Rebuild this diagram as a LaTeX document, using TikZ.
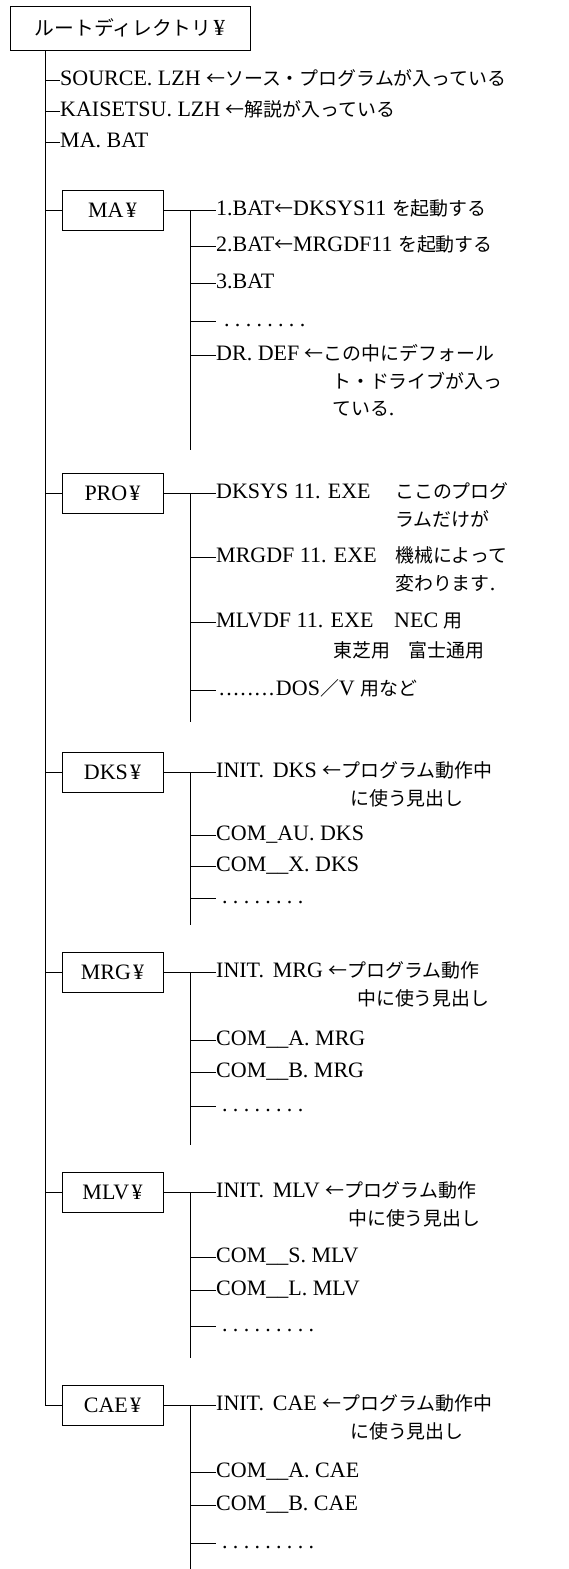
\documentclass[tikz,border=0pt]{standalone}
\usepackage{fontspec}
\setmainfont{Liberation Serif}
\newfontfamily\jpfont[Scale=0.86]{Noto Sans CJK JP}
\newcommand\ja[1]{{\jpfont #1}}
\newcommand\yen{\hspace{0.1em}¥}
\newcommand\leaderdots[2][5.3pt]{\foreach \k in {1,...,#2}{.\hspace{#1}}}
\tikzset{
  dirbox/.style={draw, line width=0.9pt, minimum width=101pt, minimum height=40pt, inner sep=0pt},
  entry/.style={anchor=west, inner sep=0pt, text height=15pt, text depth=5pt},
  branch/.style={line width=0.9pt}
}
\begin{document}
\begin{tikzpicture}[x=1pt, y=-1pt, font=\fontsize{22}{26}\selectfont]
  \useasboundingbox (0,0) rectangle (569,1569);

  % root directory
  \node[dirbox, minimum width=240pt, minimum height=44pt] (root) at (130,28)
    {\fontsize{23}{27}\selectfont\ja{ルートディレクトリ}\yen};
  \coordinate (trunk) at (45,1405);
  \coordinate (sub) at (190,0);

  % files in the root
  \node[entry] (source) at (60,80) {SOURCE. LZH \ja{←ソース・プログラムが入っている}};
  \node[entry] (kaisetsu) at (60,111) {KAISETSU. LZH \ja{←解説が入っている}};
  \node[entry] (mabat) at (60,142) {MA. BAT};
  \foreach \f in {source,kaisetsu,mabat}
    \draw[branch] (\f.west -| trunk) -- (\f.west);

  % sub directories
  \foreach \d/\lbl/\y/\e in {ma/MA/210/450, pro/PRO/493/722, dks/DKS/772/925,
                             mrg/MRG/972/1145, mlv/MLV/1192/1358, cae/CAE/1405/1569}{
    \node[dirbox] (\d) at (112.5,\y) {\lbl\yen};
    \coordinate (\d-end) at (190,\e);
    \draw[branch] (\d -| sub) -- (\d-end);
  }
  \draw[branch] (root.south -| trunk) -- (trunk) -- (cae.west);
  \foreach \d in {ma,pro,dks,mrg,mlv}
    \draw[branch] (\d.west -| trunk) -- (\d.west);

  % MA
  \node[entry] (ma1) at (216,210) {1.BAT\ja{←}DKSYS11 \ja{を起動する}};
  \node[entry] (ma2) at (216,246) {2.BAT\ja{←}MRGDF11 \ja{を起動する}};
  \node[entry] (ma3) at (216,283) {3.BAT};
  \node[entry] (ma4) at (216,321) {\hspace{8pt}\leaderdots{8}};
  \node[entry] (ma5) at (216,355) {DR. DEF \ja{←この中にデフォール}};
  \node[entry] (ma5b) at (332,383) {\ja{ト・ドライブが入っ}};
  \node[entry] (ma5c) at (332,410) {\ja{ている}.};

  % PRO
  \node[entry] (pro1) at (216,493) {DKSYS 11. EXE};
  \node[entry] (pro1n) at (395,493) {\ja{ここのプログ}};
  \node[entry] (pro1b) at (395,521) {\ja{ラムだけが}};
  \node[entry] (pro2) at (216,557) {MRGDF 11. EXE};
  \node[entry] (pro2n) at (395,557) {\ja{機械によって}};
  \node[entry] (pro2b) at (395,585) {\ja{変わります}.};
  \node[entry] (pro3) at (216,622) {MLVDF 11. EXE};
  \node[entry] (pro3n) at (394,622) {NEC \ja{用}};
  \node[entry] (pro3b) at (333,652) {\ja{東芝用\hspace{1em}富士通用}};
  \node[entry] (pro4) at (216,690) {\hspace{3pt}\leaderdots[1.6pt]{8}DOS\ja{／}V \ja{用など}};

  % DKS
  \node[entry] (dks1) at (216,772) {INIT.\hspace{0.4em}DKS \ja{←プログラム動作中}};
  \node[entry] (dks1b) at (350,800) {\ja{に使う見出し}};
  \node[entry] (dks2) at (216,835) {COM\_AU. DKS};
  \node[entry] (dks3) at (216,866) {COM\_\_X. DKS};
  \node[entry] (dks4) at (216,898) {\hspace{6pt}\leaderdots{8}};

  % MRG
  \node[entry] (mrg1) at (216,972) {INIT.\hspace{0.4em}MRG \ja{←プログラム動作}};
  \node[entry] (mrg1b) at (357,1000) {\ja{中に使う見出し}};
  \node[entry] (mrg2) at (216,1040) {COM\_\_A. MRG};
  \node[entry] (mrg3) at (216,1072) {COM\_\_B. MRG};
  \node[entry] (mrg4) at (216,1106) {\hspace{6pt}\leaderdots{8}};

  % MLV
  \node[entry] (mlv1) at (216,1192) {INIT.\hspace{0.4em}MLV \ja{←プログラム動作}};
  \node[entry] (mlv1b) at (348,1220) {\ja{中に使う見出し}};
  \node[entry] (mlv2) at (216,1257) {COM\_\_S. MLV};
  \node[entry] (mlv3) at (216,1290) {COM\_\_L. MLV};
  \node[entry] (mlv4) at (216,1326) {\hspace{6pt}\leaderdots{9}};

  % CAE
  \node[entry] (cae1) at (216,1405) {INIT.\hspace{0.4em}CAE \ja{←プログラム動作中}};
  \node[entry] (cae1b) at (350,1433) {\ja{に使う見出し}};
  \node[entry] (cae2) at (216,1472) {COM\_\_A. CAE};
  \node[entry] (cae3) at (216,1505) {COM\_\_B. CAE};
  \node[entry] (cae4) at (216,1543) {\hspace{6pt}\leaderdots{9}};

  % branches to the entries
  \foreach \d in {ma,pro,dks,mrg,mlv,cae}
    \draw[branch] (\d.east) -- (\d1.west);
  \foreach \i in {ma2,ma3,ma4,ma5,pro2,pro3,pro4,dks2,dks3,dks4,
                  mrg2,mrg3,mrg4,mlv2,mlv3,mlv4,cae2,cae3,cae4}
    \draw[branch] (\i.west -| sub) -- (\i.west);
\end{tikzpicture}
\end{document}
